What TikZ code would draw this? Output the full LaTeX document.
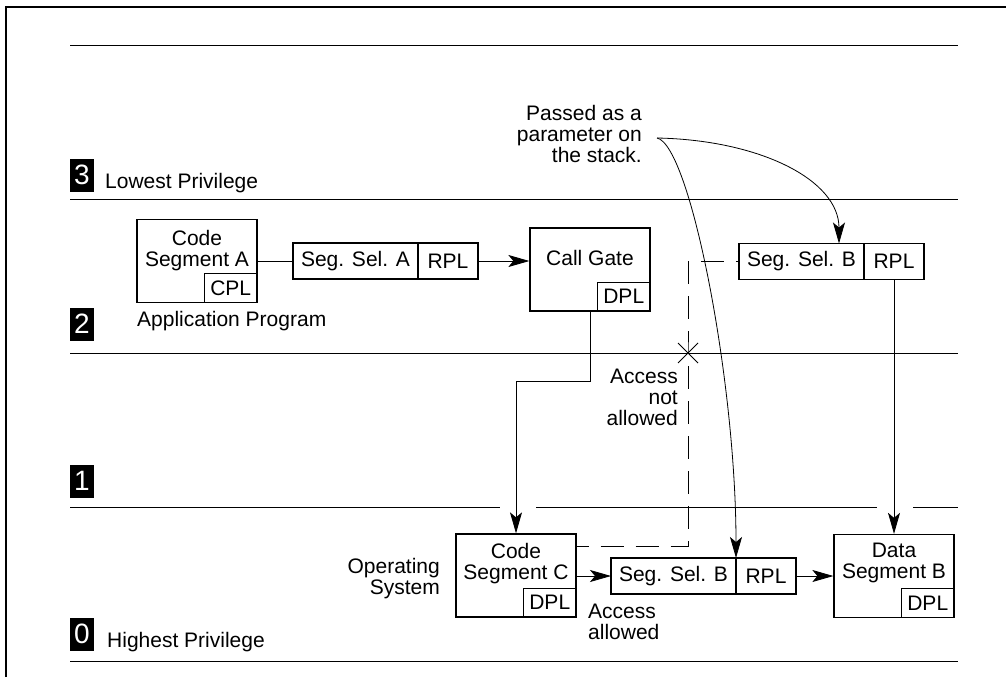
\documentclass[tikz,border=0pt]{standalone}
\usepackage{fontspec}
\setmainfont{Liberation Sans}
\usepackage{tikz}
\usetikzlibrary{arrows.meta,positioning}

\tikzset{
  ringlabel/.style={fill=black, text=white, font=\fontsize{28}{28}\selectfont, minimum width=24pt, minimum height=33pt, inner sep=0pt},
  segbox/.style={draw, line width=1.3pt, minimum width=120pt, minimum height=83pt, inner sep=0pt},
  plbox/.style={draw, line width=0.8pt, minimum width=53pt, minimum height=29pt, inner sep=0pt},
  selpart/.style={draw, line width=1.3pt, minimum height=36pt, inner sep=0pt, outer sep=0pt},
  txt/.style={inner sep=0pt},
  link/.style={line width=0.8pt},
  arr/.style={line width=0.8pt, -{Stealth[length=21pt,width=12pt,inset=5pt]}},
  ringline/.style={line width=0.9pt},
}

\begin{document}
\begin{tikzpicture}[x=1pt, y=-1pt, font=\fontsize{21}{21}\selectfont]
    \useasboundingbox (0,0) rectangle (1006,677);
    \draw[line width=1.4pt] (6,677) -- (6,7) -- (1006,7);
    % privilege rings
    \draw[ringline] (70,45) -- (958,45);
    \draw[ringline] (70,199) -- (958,199);
    \draw[ringline] (70,353) -- (958,353);
    \draw[ringline] (70,507) -- (500,507) (536,507) -- (877,507) (913,507) -- (958,507);
    \draw[ringline] (70,661) -- (958,661);
    \node[ringlabel] (r3) at (82,175) {3};
    \node[txt, anchor=base west] (r3txt) at (105,188) {Lowest Privilege};
    \node[ringlabel] (r2) at (82,324) {2};
    \node[ringlabel] (r1) at (82,481) {1};
    \node[ringlabel] (r0) at (82,634) {0};
    \node[txt, anchor=base west] (r0txt) at (107,647) {Highest Privilege};

    % ring 3 / 2 side
    \node[segbox] (csa) at (197,261) {};
    \node[plbox, anchor=south east] (cpl) at (csa.south east) {CPL};
    \node[txt, align=center, anchor=north] (csatxt) at (197,230) {Code\\Segment A};
    \node[txt, anchor=base west] (app) at (137,326) {Application Program};
    \node[selpart, minimum width=125pt] (ssa) at (355.5,261) {Seg. Sel. A};
    \node[selpart, minimum width=60pt, right=0pt of ssa] (rpla) {RPL};
    \node[segbox] (cg) at (590,269.5) {};
    \node[plbox, anchor=south east] (cgdpl) at (cg.south east) {DPL};
    \node[txt, anchor=base] (cgtxt) at (590,265) {Call Gate};
    \node[selpart, minimum width=125pt] (ssb) at (801.5,261.5) {Seg. Sel. B};
    \node[selpart, minimum width=60pt, right=0pt of ssb] (rplb) {RPL};

    % ring 0 side
    \node[segbox] (csc) at (516,575.5) {};
    \node[plbox, anchor=south east] (cscdpl) at (csc.south east) {DPL};
    \node[txt, align=center, anchor=north] (csctxt) at (516,543) {Code\\Segment C};
    \node[txt, align=right, anchor=north east] (os) at (440,558) {Operating\\System};
    \node[selpart, minimum width=125pt] (ssc) at (673.5,576) {Seg. Sel. B};
    \node[selpart, minimum width=60pt, right=0pt of ssc] (rplc) {RPL};
    \node[segbox] (dsb) at (894,576) {};
    \node[plbox, anchor=south east] (dsbdpl) at (dsb.south east) {DPL};
    \node[txt, align=center, anchor=north] (dsbtxt) at (894,543) {Data\\Segment B};

    % notes
    \node[txt, align=right, anchor=north east] (passed) at (642,105) {Passed as a\\parameter on\\the stack.};
    \node[txt, align=right, anchor=north east] (notok) at (678,369) {Access\\not\\allowed};
    \node[txt, align=left, anchor=north west] (ok) at (588,604) {Access\\allowed};
    \coordinate (fork) at (657,138);
    \coordinate (blocked) at (688,353);

    % connections
    \draw[link] (csa.east |- ssa.west) -- (ssa.west);
    \draw[arr] (rpla.east) -- (rpla.east -| cg.west);
    \draw[arr] (cg.south) -- ++(0,70) -| (csc.north);
    \draw[arr] (fork) .. controls (760,140) and (839,180) .. ([xshift=37.5pt]ssb.north);
    \draw[arr] (fork) .. controls (690,145) and (736,380) .. (ssc.north east);
    \draw[arr] (rplb.south) -- (dsb.north);
    \draw[arr] (ssc.west -| csc.east) -- (ssc.west);
    \draw[arr] (rplc.east) -- (rplc.east -| dsb.west);
    \draw[link, dash pattern=on 23pt off 12pt, dash phase=11pt] ([yshift=-13pt]csc.north east) -| (blocked) |- (ssb.west);
    \draw[line width=1pt] (blocked) +(-10,-10) -- +(10,10) (blocked) +(-10,10) -- +(10,-10);
\end{tikzpicture}
\end{document}
